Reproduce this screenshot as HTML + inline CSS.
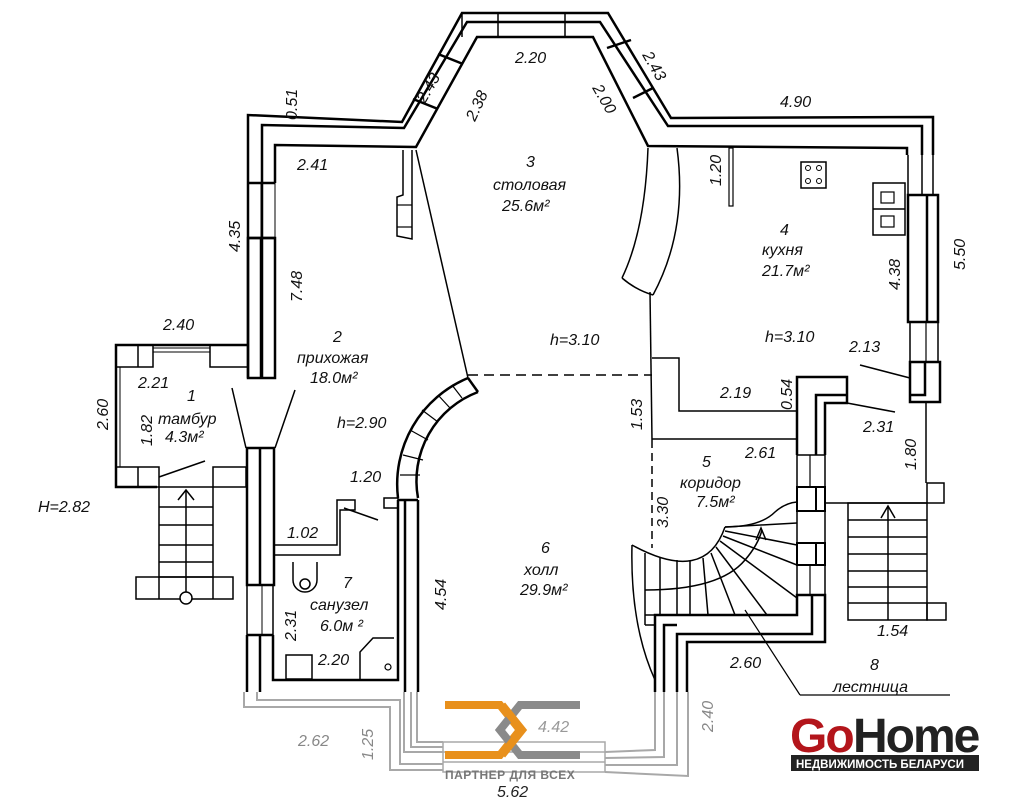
<!DOCTYPE html>
<html><head><meta charset="utf-8"><style>
html,body{margin:0;padding:0;background:#fff;}
svg{display:block;}
text{font-family:"Liberation Sans","DejaVu Sans",sans-serif;font-style:italic;fill:#111;font-size:16px;}
</style></head><body>
<svg width="1025" height="800" viewBox="0 0 1025 800" xmlns="http://www.w3.org/2000/svg">
<rect width="1025" height="800" fill="#fff"/>
<g fill="none" stroke="#000" stroke-width="2.5" stroke-linejoin="miter">
<!-- top outer walls -->
<polyline points="248,378 248,115 402,122 462,13 608,13 671,118 933,117 933,155"/>
<polyline points="262,378 262,125 404,128 467,22 600,22 668,126 922,126 922,155"/>
<polyline points="275,183 275,145 416,147 477,37 593,37 648,146 907,148 907,155"/>
<line x1="462" y1="13" x2="462" y2="37" stroke-width="1.5"/>
<line x1="498" y1="13" x2="498" y2="37" stroke-width="1.5"/>
<line x1="565" y1="13" x2="565" y2="37" stroke-width="1.5"/>
<line x1="438" y1="54" x2="463" y2="64"/>
<line x1="413" y1="99" x2="438" y2="109"/>
<line x1="607" y1="48" x2="631" y2="40"/>
<line x1="633" y1="98" x2="653" y2="88"/>
<!-- left wall -->
<line x1="248" y1="183" x2="275" y2="183"/>
<line x1="248" y1="238" x2="275" y2="238"/>
<rect x="248" y="238" width="27" height="140"/>
<line x1="261" y1="238" x2="261" y2="378"/>
<line x1="275" y1="238" x2="275" y2="183" stroke-width="1"/>
<line x1="261" y1="183" x2="261" y2="238" stroke-width="1"/>
<!-- tambur -->
<polyline points="248,345 116,345 116,487 157,487"/>
<rect x="116" y="345" width="37" height="22" stroke-width="1.5"/>
<line x1="138" y1="345" x2="138" y2="367" stroke-width="1.5"/>
<rect x="210" y="345" width="38" height="22" stroke-width="1.5"/>
<line x1="153" y1="348" x2="210" y2="348" stroke-width="1"/>
<line x1="153" y1="352" x2="210" y2="352" stroke-width="1"/>
<line x1="120" y1="367" x2="120" y2="467" stroke-width="1"/>
<rect x="116" y="467" width="43" height="20" stroke-width="1.5"/>
<line x1="138" y1="467" x2="138" y2="487" stroke-width="1.5"/>
<rect x="213" y="467" width="33" height="20" stroke-width="1.5"/>
<line x1="159" y1="477" x2="205" y2="461" stroke-width="1.5"/>
<line x1="232" y1="388" x2="246" y2="448" stroke-width="1.5"/>
<line x1="295" y1="390" x2="275" y2="448" stroke-width="1.5"/>
<!-- entry stair -->
<g stroke-width="1.5">
<rect x="159" y="487" width="54" height="90"/>
<line x1="159" y1="507" x2="213" y2="507"/><line x1="159" y1="525" x2="213" y2="525"/>
<line x1="159" y1="545" x2="213" y2="545"/><line x1="159" y1="562" x2="213" y2="562"/>
<rect x="136" y="577" width="97" height="22"/>
<line x1="159" y1="577" x2="159" y2="599"/><line x1="213" y1="577" x2="213" y2="599"/>
<line x1="186" y1="490" x2="186" y2="593"/>
<polyline points="178,500 186,490 194,500"/>
<circle cx="186" cy="598" r="6" fill="#fff"/>
</g>
<!-- lower left wall -->
<rect x="247" y="448" width="27" height="137"/>
<line x1="260" y1="448" x2="260" y2="585"/>
<line x1="247" y1="585" x2="247" y2="635" stroke-width="1.5"/>
<line x1="273" y1="585" x2="273" y2="635" stroke-width="1.5"/>
<line x1="262" y1="585" x2="262" y2="635" stroke-width="1"/>
<polyline points="247,635 247,692"/>
<polyline points="273,635 273,680 398,680 398,500"/>
<polyline points="260,635 260,692"/>
<line x1="247" y1="635" x2="273" y2="635"/>
<!-- sanuzel partitions -->
<polyline points="275,545 337,545 337,500 345,500" stroke-width="1.5"/>
<polyline points="275,555 340,555 340,510 355,510 355,500 345,500" stroke-width="1.5"/>
<line x1="344" y1="508" x2="378" y2="520" stroke-width="1.5"/>
<rect x="384" y="498" width="14" height="10" stroke-width="1.5"/>
<path d="M293,562 L293,580 A12,12 0 0 0 317,580 L317,562" stroke-width="1.5"/>
<circle cx="305" cy="584" r="5" stroke-width="1.5"/>
<rect x="286" y="655" width="26" height="24" stroke-width="1.5"/>
<polyline points="360,680 360,652 373,638 394,638" stroke-width="1.5"/>
<circle cx="388" cy="667" r="3" stroke-width="1.2"/>
<!-- hall left wall -->
<line x1="405" y1="500" x2="405" y2="692"/>
<line x1="418" y1="500" x2="418" y2="692"/>
<line x1="398" y1="500" x2="418" y2="500"/>
<!-- brick arc -->
<path d="M398,498 A115,115 0 0 1 468,378" />
<path d="M418,498 A95,95 0 0 1 478,392"/>
<line x1="468" y1="378" x2="478" y2="392"/>
<g stroke-width="1.2">
<line x1="400" y1="475" x2="420" y2="475"/><line x1="403" y1="455" x2="423" y2="460"/>
<line x1="410" y1="430" x2="428" y2="440"/><line x1="422" y1="410" x2="438" y2="422"/>
<line x1="438" y1="395" x2="450" y2="408"/><line x1="452" y1="385" x2="462" y2="398"/>
</g>
<line x1="416" y1="150" x2="468" y2="378" stroke-width="1.5"/>
<polyline points="403,150 403,195 397,197 397,236 412,239 412,150" stroke-width="1.5"/>
<line x1="397" y1="205" x2="412" y2="205" stroke-width="1.2"/><line x1="397" y1="227" x2="412" y2="227" stroke-width="1.2"/>
<line x1="468" y1="375" x2="652" y2="375" stroke-dasharray="10,6" stroke-width="1.5"/>
<!-- kitchen curved partition -->
<path d="M677,148 Q688,230 653,295" stroke-width="1.5"/>
<path d="M622,278 Q636,290 653,295" stroke-width="1.5"/>
<path d="M648,148 Q645,230 622,278" stroke-width="1.5"/>
<line x1="650" y1="292" x2="652" y2="440" stroke-width="1.5"/>
<polyline points="652,358 679,358 679,411 797,411" stroke-width="1.5"/>
<line x1="652" y1="439" x2="797" y2="439" stroke-width="1.5"/>
<line x1="652" y1="440" x2="652" y2="548" stroke-dasharray="8,5" stroke-width="1.5"/>
<rect x="729" y="148" width="4" height="58" stroke-width="1.2"/>
<rect x="801" y="162" width="25" height="26" stroke-width="1.5"/>
<circle cx="808" cy="168" r="2.5" stroke-width="1"/><circle cx="819" cy="168" r="2.5" stroke-width="1"/>
<circle cx="808" cy="181" r="2.5" stroke-width="1"/><circle cx="819" cy="181" r="2.5" stroke-width="1"/>
<rect x="873" y="183" width="32" height="52" stroke-width="1.5"/>
<line x1="873" y1="209" x2="905" y2="209" stroke-width="1.5"/>
<rect x="881" y="192" width="13" height="11" stroke-width="1.2"/><rect x="881" y="216" width="13" height="11" stroke-width="1.2"/>
<!-- kitchen right wall -->
<line x1="908" y1="155" x2="908" y2="195" stroke-width="1.5"/>
<line x1="922" y1="155" x2="922" y2="195" stroke-width="1.5"/>
<line x1="933" y1="155" x2="933" y2="195" stroke-width="1.5"/>
<rect x="908" y="195" width="30" height="127"/>
<line x1="927" y1="195" x2="927" y2="322"/>
<line x1="910" y1="322" x2="910" y2="362" stroke-width="1.5"/><line x1="938" y1="322" x2="938" y2="362" stroke-width="1.5"/>
<line x1="926" y1="322" x2="926" y2="362" stroke-width="1.2"/>
<rect x="910" y="362" width="30" height="40"/>
<polyline points="910,395 925,395 925,362" />
<line x1="860" y1="365" x2="910" y2="378" stroke-width="1.5"/>
<line x1="926" y1="402" x2="926" y2="483" stroke-width="1.5"/>
<!-- corridor wall block -->
<polyline points="797,455 797,377 847,377 847,403 825,403 825,455"/>
<polyline points="816,455 816,395 847,395"/>
<line x1="847" y1="403" x2="895" y2="412" stroke-width="1.5"/>
<g stroke-width="2">
<rect x="797" y="455" width="28" height="32" stroke-width="1.5"/>
<line x1="810" y1="455" x2="810" y2="487" stroke-width="1.2"/>
<rect x="797" y="487" width="28" height="24"/>
<line x1="816" y1="487" x2="816" y2="511"/>
<rect x="797" y="511" width="28" height="32" stroke-width="1.5"/>
<rect x="797" y="543" width="28" height="22"/>
<line x1="816" y1="543" x2="816" y2="565"/>
<rect x="797" y="565" width="28" height="30" stroke-width="1.5"/>
<line x1="810" y1="565" x2="810" y2="595" stroke-width="1.2"/>
</g>
<!-- right stair -->
<polyline points="825,503 927,503 927,483 944,483 944,503 927,503" stroke-width="1.5"/>
<g stroke-width="1.5">
<rect x="848" y="503" width="79" height="117"/>
<line x1="848" y1="520" x2="927" y2="520"/><line x1="848" y1="537" x2="927" y2="537"/>
<line x1="848" y1="554" x2="927" y2="554"/><line x1="848" y1="571" x2="927" y2="571"/>
<line x1="848" y1="587" x2="927" y2="587"/><line x1="848" y1="603" x2="927" y2="603"/>
<rect x="927" y="603" width="19" height="17"/>
<line x1="888" y1="506" x2="888" y2="620"/>
<polyline points="881,518 888,506 895,518"/>
</g>
<!-- spiral stair -->
<g stroke-width="1.5">
<path d="M632,545 Q705,585 725,527"/>
<path d="M725,527 Q760,527 775,512 Q785,503 797,502"/>
<line x1="725" y1="527" x2="797" y2="523"/>
<line x1="725" y1="531" x2="797" y2="545"/>
<line x1="723" y1="536" x2="797" y2="565"/>
<line x1="720" y1="541" x2="797" y2="598"/>
<line x1="716" y1="547" x2="767" y2="615"/>
<line x1="711" y1="553" x2="735" y2="615"/>
<line x1="645" y1="553" x2="645" y2="625"/>
<line x1="660" y1="557" x2="660" y2="615"/>
<line x1="677" y1="560" x2="677" y2="615"/>
<line x1="690" y1="561" x2="690" y2="615"/>
<line x1="703" y1="558" x2="708" y2="615"/>
<line x1="645" y1="615" x2="655" y2="615"/>
<line x1="645" y1="625" x2="655" y2="625"/>
<path d="M645,590 Q720,590 745,560 Q758,545 762,530"/>
<polyline points="756,540 761,528 766,540"/>
<path d="M632,545 Q630,625 655,680"/>
<line x1="745" y1="610" x2="800" y2="695" stroke-width="1.2"/>
<line x1="800" y1="695" x2="950" y2="695" stroke-width="1.2"/>
</g>
<polyline points="655,692 655,615 797,615 797,595 825,595 825,642 687,642 687,692"/>
<polyline points="664,692 664,625 677,625"/>
<polyline points="677,692 677,634 812,634 812,595"/>
</g>
<!-- faded bottom region -->
<g fill="none" stroke="#a8a8a8" stroke-width="2">
<polyline points="244,692 244,707 390,707 390,770 443,770"/>
<polyline points="257,692 257,700 400,700 400,764 443,764"/>
<polyline points="404,692 404,752 443,752"/>
<polyline points="411,692 411,747 443,747"/>
<polyline points="417,692 417,742 443,742"/>
<rect x="443" y="742" width="162" height="30" stroke-width="1.5"/>
<line x1="443" y1="752" x2="605" y2="752" stroke-width="1.5"/>
<line x1="443" y1="762" x2="605" y2="762" stroke-width="1.5"/>
<polyline points="605,752 655,750 655,692"/>
<polyline points="605,758 664,757 664,692"/>
<polyline points="605,765 677,765 677,692"/>
<polyline points="605,772 688,776 688,692"/>
</g>
<!-- labels -->
<text x="515" y="63">2.20</text>
<text x="297" y="170">2.41</text>
<text x="780" y="107">4.90</text>
<text x="526" y="167">3</text>
<text x="493" y="190">столовая</text>
<text x="502" y="211">25.6м²</text>
<text x="780" y="235">4</text>
<text x="762" y="255">кухня</text>
<text x="762" y="276">21.7м²</text>
<text x="550" y="345">h=3.10</text>
<text x="765" y="342">h=3.10</text>
<text x="849" y="352">2.13</text>
<text x="720" y="398">2.19</text>
<text x="863" y="432">2.31</text>
<text x="745" y="458">2.61</text>
<text x="702" y="467">5</text>
<text x="680" y="488">коридор</text>
<text x="696" y="507">7.5м²</text>
<text x="541" y="553">6</text>
<text x="524" y="575">холл</text>
<text x="520" y="595">29.9м²</text>
<text x="877" y="636">1.54</text>
<text x="730" y="668">2.60</text>
<text x="870" y="670">8</text>
<text x="833" y="692">лестница</text>
<text x="163" y="330">2.40</text>
<text x="138" y="388">2.21</text>
<text x="187" y="401">1</text>
<text x="158" y="424">тамбур</text>
<text x="165" y="442">4.3м²</text>
<text x="333" y="342">2</text>
<text x="297" y="363">прихожая</text>
<text x="310" y="383">18.0м²</text>
<text x="337" y="428">h=2.90</text>
<text x="350" y="482">1.20</text>
<text x="287" y="538">1.02</text>
<text x="343" y="588">7</text>
<text x="310" y="610">санузел</text>
<text x="320" y="631">6.0м ²</text>
<text x="318" y="665">2.20</text>
<text x="38" y="512">H=2.82</text>
<text x="298" y="746" style="fill:#888">2.62</text>
<text x="538" y="732" style="fill:#999">4.42</text>
<text x="497" y="797" style="fill:#222">5.62</text>
<!-- rotated labels -->
<text transform="translate(297,120) rotate(-90)">0.51</text>
<text transform="translate(425,104) rotate(-60)">2.43</text>
<text transform="translate(475,122) rotate(-65)">2.38</text>
<text transform="translate(642,55) rotate(60)">2.43</text>
<text transform="translate(592,88) rotate(60)">2.00</text>
<text transform="translate(240,252) rotate(-90)">4.35</text>
<text transform="translate(302,302) rotate(-90)">7.48</text>
<text transform="translate(721,186) rotate(-90)">1.20</text>
<text transform="translate(900,290) rotate(-90)">4.38</text>
<text transform="translate(965,270) rotate(-90)">5.50</text>
<text transform="translate(792,410) rotate(-90)">0.54</text>
<text transform="translate(642,430) rotate(-90)">1.53</text>
<text transform="translate(916,470) rotate(-90)">1.80</text>
<text transform="translate(668,528) rotate(-90)">3.30</text>
<text transform="translate(108,430) rotate(-90)">2.60</text>
<text transform="translate(152,446) rotate(-90)">1.82</text>
<text transform="translate(446,610) rotate(-90)">4.54</text>
<text transform="translate(296,641) rotate(-90)">2.31</text>
<text transform="translate(373,760) rotate(-90)" style="fill:#888">1.25</text>
<text transform="translate(713,732) rotate(-90)" style="fill:#888">2.40</text>
<!-- partner logo -->
<g fill="none" stroke-width="8">
<polyline points="445,705 500,705 520,730 500,755 445,755" stroke="#e8901c"/>
<polyline points="580,705 520,705 500,730 520,755 580,755" stroke="#8a8a8a"/>
<polyline points="502,705 522,730 502,755" stroke="#e8901c"/>
</g>
<text x="445" y="779" style="font-style:normal;font-weight:bold;font-size:12px;fill:#777;letter-spacing:0.5px">ПАРТНЕР ДЛЯ ВСЕХ</text>
<!-- GoHome -->
<text x="790" y="752" style="font-style:normal;font-weight:bold;font-size:48px;fill:#b3151b;letter-spacing:-2px">Go</text>
<text x="853" y="752" style="font-style:normal;font-weight:bold;font-size:48px;fill:#222;letter-spacing:-2px">Home</text>
<rect x="791" y="755" width="188" height="16" fill="#222"/>
<text x="796" y="768" style="font-style:normal;font-weight:bold;font-size:11.5px;fill:#fff">НЕДВИЖИМОСТЬ БЕЛАРУСИ</text>
</svg>
</body></html>
